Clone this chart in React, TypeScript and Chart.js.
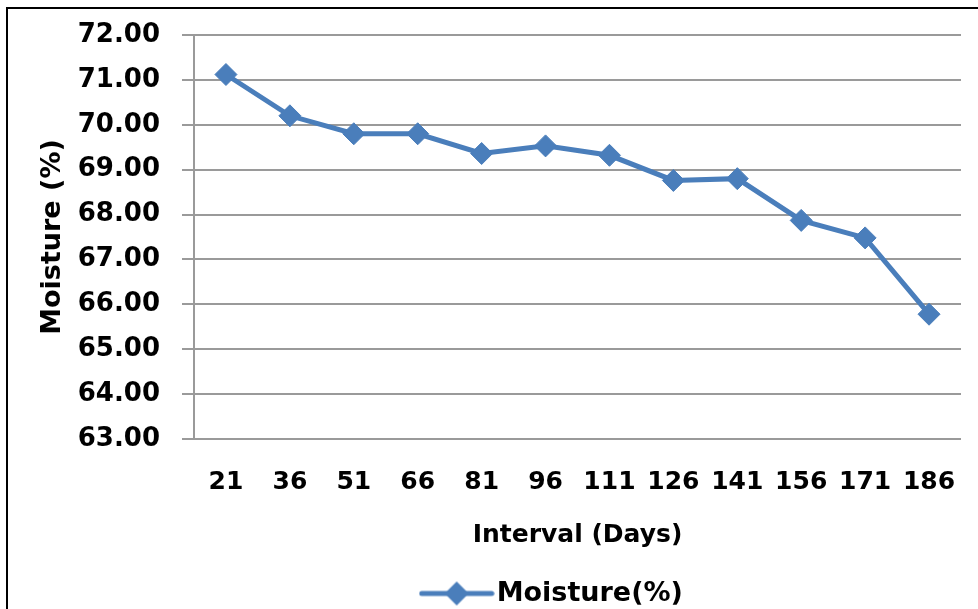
import React, { useEffect, useRef } from "react";
import { Chart, registerables } from "chart.js";

Chart.register(...registerables);

const categories = ["21", "36", "51", "66", "81", "96", "111", "126", "141", "156", "171", "186"];
const moisture = [71.12, 70.2, 69.8, 69.8, 69.36, 69.53, 69.32, 68.76, 68.8, 67.87, 67.48, 65.78];
const seriesLabel = "Moisture(%)";
const yTitle = "Moisture (%)";
const xTitle = "Interval (Days)";
const yMin = 63;
const yMax = 72;

const BLUE = "#4A7EBB";
const GRID = "#9a9a9a";
const FONT = "'DejaVu Sans', sans-serif";

function makeLegendIcon(): HTMLCanvasElement {
  const c = document.createElement("canvas");
  c.width = 76;
  c.height = 26;
  const ctx = c.getContext("2d")!;
  ctx.strokeStyle = BLUE;
  ctx.lineWidth = 5;
  ctx.lineCap = "round";
  ctx.beginPath();
  ctx.moveTo(3, 13);
  ctx.lineTo(73, 13);
  ctx.stroke();
  ctx.fillStyle = BLUE;
  ctx.beginPath();
  ctx.moveTo(38, 1);
  ctx.lineTo(50, 13);
  ctx.lineTo(38, 25);
  ctx.lineTo(26, 13);
  ctx.closePath();
  ctx.fill();
  return c;
}

const legendShift = {
  id: "legendShift",
  afterLayout(chart: any) {
    if (chart.legend) {
      chart.legend.left += 76;
      chart.legend.right += 76;
    }
  },
};

export default function App() {
  const ref = useRef<HTMLCanvasElement | null>(null);

  useEffect(() => {
    if (!ref.current) return;
    const icon = makeLegendIcon();
    const chart = new Chart(ref.current, {
      type: "line",
      data: {
        labels: categories,
        datasets: [
          {
            label: seriesLabel,
            data: moisture,
            borderColor: BLUE,
            backgroundColor: BLUE,
            borderWidth: 5,
            pointStyle: "rectRot",
            pointRadius: 11,
            pointBorderWidth: 1,
            pointBackgroundColor: BLUE,
            pointBorderColor: BLUE,
            tension: 0,
          },
        ],
      },
      plugins: [legendShift],
      options: {
        animation: false,
        responsive: false,
        maintainAspectRatio: false,
        devicePixelRatio: 1,
        layout: { padding: { left: 0, right: 17, top: 35, bottom: -8 } },
        plugins: {
          legend: {
            display: true,
            position: "bottom",
            labels: {
              usePointStyle: true,
              pointStyle: icon as any,
              pointStyleWidth: 53,
              color: "#000",
              padding: 2,
              font: { family: FONT, size: 27, weight: "bold" },
            },
          },
          tooltip: { enabled: false },
        },
        scales: {
          x: {
            type: "category",
            offset: true,
            grid: { display: false, drawTicks: false },
            border: { display: false },
            ticks: {
              color: "#000",
              padding: 28,
              autoSkip: false,
              maxRotation: 0,
              font: { family: FONT, size: 25, weight: "bold" },
            },
            title: {
              display: true,
              text: xTitle,
              color: "#000",
              padding: { top: 0, bottom: 28 },
              font: { family: FONT, size: 25, weight: "bold" },
            },
            afterFit: (scale: any) => {
              scale.height = 139;
              scale.paddingLeft = 0;
              scale.paddingRight = 0;
            },
          },
          y: {
            min: yMin,
            max: yMax,
            grid: { color: GRID, lineWidth: 2, tickLength: 12, drawTicks: true },
            border: { display: true, color: GRID, width: 2 },
            ticks: {
              stepSize: 1,
              color: "#000",
              padding: 22,
              font: { family: FONT, size: 26, weight: "bold" },
              callback: (v: any) => Number(v).toFixed(2),
            },
            title: {
              display: true,
              text: yTitle,
              color: "#000",
              padding: { top: 37, bottom: 0 },
              font: { family: FONT, size: 27, weight: "bold" },
            },
            afterFit: (scale: any) => {
              scale.width = 194;
              scale.paddingTop = 0;
              scale.paddingBottom = 0;
            },
          },
        },
      },
    });
    return () => chart.destroy();
  }, []);

  return (
    <div style={{ position: "fixed", left: 0, top: 0, width: 978, height: 609, overflow: "hidden", background: "#fff" }}>
      <canvas ref={ref} width={978} height={609} style={{ position: "absolute", left: 0, top: 0, width: 978, height: 609 }} />
      <div
        style={{
          position: "absolute",
          left: 6,
          top: 7,
          width: 990,
          height: 620,
          borderTop: "2px solid #000",
          borderLeft: "2px solid #000",
          pointerEvents: "none",
        }}
      />
    </div>
  );
}
